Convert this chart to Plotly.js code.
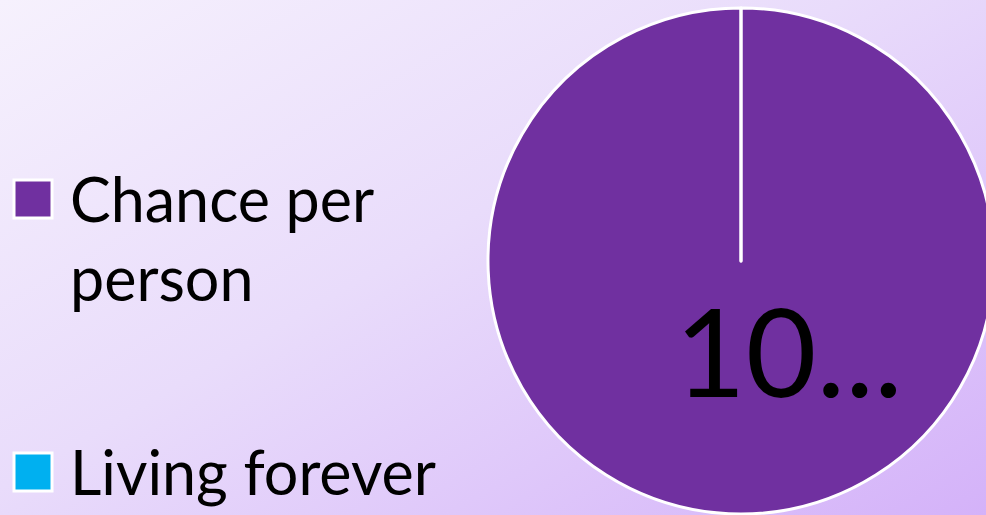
<!DOCTYPE html>
<html>
<head>
<meta charset="utf-8">
<script src="https://cdn.plot.ly/plotly-3.0.1.min.js"></script>
<style>
  html, body { margin:0; padding:0; width:986px; height:515px; overflow:hidden; }
  body { background: linear-gradient(150deg, #f6f1fd 0%, #e9dcfb 45%, #d4b2f9 100%); }
  #chart { position:absolute; left:0; top:0; }
</style>
</head>
<body>
<div id="chart"></div>
<script>
// ---- data ----
const labels = ["Chance per person", "Living forever"];
const legendText = ["Chance per<br>person", "Living forever"];
const values = [100, 0.0001];
const sliceText = ["10...", ""];
const colors = ["#7030A0", "#00B0F0"];

// ---- layout helpers (pixel -> paper) ----
const W = 1000, H = 516, M = {l:488, r:6, t:8, b:2};
const pw = W - M.l - M.r, ph = H - M.t - M.b;
const px = x => (x - M.l) / pw;
const py = y => (H - M.b - y) / ph;

const trace = {
  type: "pie",
  labels: labels,
  values: values,
  text: sliceText,
  textinfo: "none",
  sort: false,
  direction: "clockwise",
  rotation: 0,
  marker: { colors: colors, line: { color: "#ffffff", width: 3 } },
  showlegend: false,
  hoverinfo: "label+percent"
};

const legendY = [180, 453];
const shapes = [], annotations = [];
labels.forEach((l, i) => {
  shapes.push({
    type: "rect", xref: "paper", yref: "paper",
    x0: px(14), x1: px(52), y0: py(legendY[i] + 38), y1: py(legendY[i]),
    fillcolor: colors[i], line: { color: "#ffffff", width: 3 }
  });
  annotations.push({
    xref: "paper", yref: "paper", x: px(68), y: py(legendY[i] - 20),
    xanchor: "left", yanchor: "top", align: "left", showarrow: false,
    text: legendText[i],
    font: { family: "Lato, 'Open Sans', sans-serif", size: 61, color: "#000000" }
  });
});
annotations.push({
  xref: "paper", yref: "paper", x: px(789), y: py(350),
  xanchor: "center", yanchor: "middle", showarrow: false,
  text: sliceText[0],
  font: { family: "Lato, 'Open Sans', sans-serif", size: 122, color: "#000000" }
});

const layout = {
  width: W, height: H,
  margin: M,
  paper_bgcolor: "rgba(0,0,0,0)",
  plot_bgcolor: "rgba(0,0,0,0)",
  showlegend: false,
  shapes: shapes,
  annotations: annotations
};

Plotly.newPlot("chart", [trace], layout, { displayModeBar: false, staticPlot: true });
</script>
</body>
</html>
